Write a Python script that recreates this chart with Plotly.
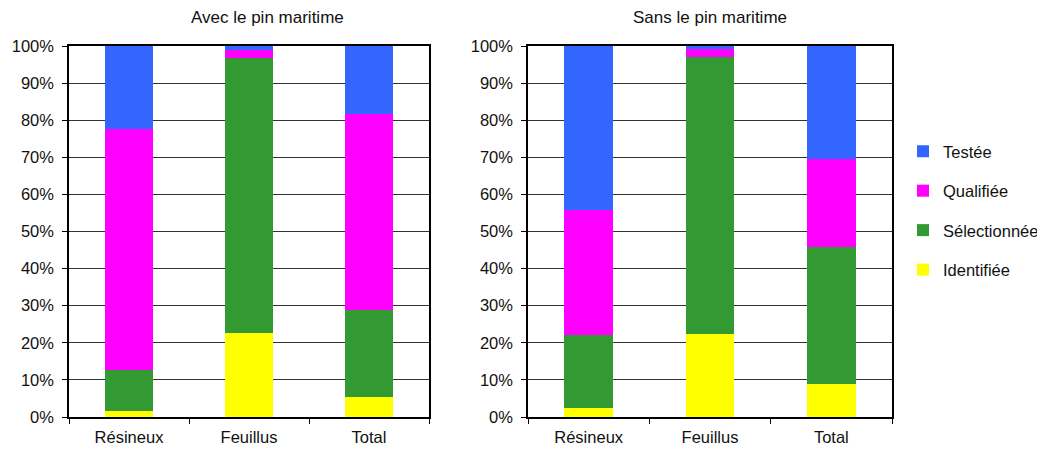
import plotly.graph_objects as go

categories = ["Résineux", "Feuillus", "Total"]
series_names = ["Identifiée", "Sélectionnée", "Qualifiée", "Testée"]
colors = ["#FFFF00", "#339933", "#FF00FF", "#3366FF"]

# Avec le pin maritime (%)
avec_identifiee = [1.5, 22.7, 5.4]
avec_selectionnee = [11.3, 74.2, 23.5]
avec_qualifiee = [64.8, 2.1, 52.8]
avec_testee = [22.4, 1.0, 18.3]

# Sans le pin maritime (%)
sans_identifiee = [2.3, 22.5, 8.8]
sans_selectionnee = [19.7, 74.6, 37.0]
sans_qualifiee = [33.8, 2.0, 23.7]
sans_testee = [44.2, 0.9, 30.5]

avec = [avec_identifiee, avec_selectionnee, avec_qualifiee, avec_testee]
sans = [sans_identifiee, sans_selectionnee, sans_qualifiee, sans_testee]

fig = go.Figure()
for i, name in enumerate(series_names):
    fig.add_trace(go.Bar(x=categories, y=avec[i], name=name, marker_color=colors[i],
                         marker_line_width=0, width=0.4, xaxis="x", yaxis="y",
                         legendgroup=name, legendrank=10 - i, showlegend=True))
for i, name in enumerate(series_names):
    fig.add_trace(go.Bar(x=categories, y=sans[i], name=name, marker_color=colors[i],
                         marker_line_width=0, width=0.4, xaxis="x2", yaxis="y2",
                         legendgroup=name, legendrank=10 - i, showlegend=False))

# the page body has an 8px margin, so work in figure coordinates (screen - 8)
W, H = 1037, 442
FAM = "Liberation Sans, Arial, sans-serif"
font = dict(family=FAM, size=16.5, color="#111111")
tfont = dict(family=FAM, size=17, color="#111111")

def xax(d0, d1, anchor):
    return dict(domain=[d0 / W, d1 / W], anchor=anchor, type="category",
                showline=True, linecolor="black", linewidth=1.5, mirror=True,
                ticks="outside", tickson="boundaries", ticklen=5, tickcolor="black",
                ticklabelstandoff=4,
                showgrid=False, tickfont=font, fixedrange=True, automargin=False)

def yax(anchor):
    return dict(domain=[1 - 409 / H, 1 - 38 / H], anchor=anchor, range=[0, 100],
                tickvals=list(range(0, 101, 10)), ticktext=[f"{v}%" for v in range(0, 101, 10)],
                showline=True, linecolor="black", linewidth=1.5, mirror=True,
                ticks="outside", ticklen=5, tickcolor="black",
                ticklabelstandoff=5,
                showgrid=True, gridcolor="#333333", gridwidth=1,
                tickfont=font, zeroline=False, automargin=False)

fig.update_layout(
    width=W, height=H,
    margin=dict(l=0, r=0, t=0, b=0, autoexpand=False),
    paper_bgcolor="white", plot_bgcolor="white",
    barmode="stack",
    font=font,
    xaxis=xax(61, 421, "y"),
    yaxis=yax("x"),
    xaxis2=xax(520, 884, "y2"),
    yaxis2=yax("x2"),
    legend=dict(x=895 / W, y=1 - 126 / H, xanchor="left", yanchor="top",
                traceorder="grouped", tracegroupgap=15,
                font=dict(family=FAM, size=16.5, color="#111111"),
                itemwidth=30, bgcolor="rgba(0,0,0,0)"),
    annotations=[
        dict(text="Avec le pin maritime", x=259 / W, y=1 - 9 / H, xref="paper", yref="paper",
             xanchor="center", yanchor="middle", showarrow=False, font=tfont),
        dict(text="Sans le pin maritime", x=702 / W, y=1 - 9 / H, xref="paper", yref="paper",
             xanchor="center", yanchor="middle", showarrow=False, font=tfont),
    ],
)

fig.write_html("out.html")
